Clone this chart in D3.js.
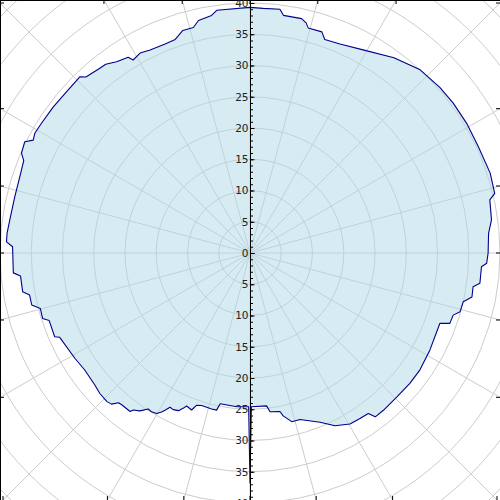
<!DOCTYPE html>
<html>
<head>
<meta charset="utf-8">
<script src="https://cdn.jsdelivr.net/npm/d3@7"></script>
<style>
  body { margin: 0; background: #fff; }
  svg { display: block; }
</style>
</head>
<body>
<svg id="chart"></svg>
<script>
////////////
// DATA (angle in degrees, counter-clockwise from east; radius in axis units)
////////////
const thetaDeg = [
  0, 4.7, 7.8, 12.5, 13.7, 18.4, 25.0, 30.9, 36.4, 41.1,
  47.1, 53.6, 60.9, 66.7, 70.7, 72.0, 75.5, 76.3, 77.6, 82.0,
  83.0, 86.9, 90, 97.8, 99.2, 102.5, 104.1, 106.8, 109.3, 112.1,
  116.2, 118.8, 121.2, 121.9, 124.9, 127.4, 129.1, 133.0, 134.0, 139.8,
  143.4, 148.1, 150.9, 152.5, 153.7, 156.4, 157.8, 161.6, 166.5, 172.2,
  175.4, 177.4, 178.5, 184.8, 185.7, 189.7, 190.8, 193.4, 194.8, 197.5,
  198.6, 203.2, 203.9, 211.0, 215.3, 220.4, 223.1, 226.1, 227.5, 228.7,
  229.8, 232.9, 233.4, 235.1, 236.9, 238.2, 239.8, 240.9, 241.6, 242.6,
  243.9, 245.6, 246.8, 247.5, 249.6, 250.7, 252.4, 256.2, 258.0, 258.8,
  265.1, 269.5, 270, 270.5, 276.2, 277.2, 280.7, 281.5, 283.9, 286.7,
  292.5, 296.2, 300.3, 303.6, 306.4, 307.4, 310.3, 315.6, 320.8, 325.5,
  331.7, 339.7, 340.6, 343.0, 344.4, 347.1, 348.8, 351.4, 352.5, 356.6,
  357.5
];
const radius = [
  38.1, 38.3, 39.0, 39.3, 40.3, 40.5, 40.3, 40.4, 40.4, 40.3,
  40.0, 38.8, 37.2, 36.4, 36.2, 37.2, 37.2, 37.9, 38.4, 38.4,
  39.3, 39.2, 39.3, 39.2, 38.5, 38.1, 37.2, 37.2, 36.2, 36.1,
  36.2, 36.5, 36.1, 36.9, 37.3, 38.0, 38.1, 38.5, 39.2, 39.1,
  39.2, 39.3, 39.4, 39.1, 40.2, 39.9, 39.1, 38.8, 38.7, 38.8,
  39.0, 39.0, 38.0, 38.0, 36.9, 36.9, 35.9, 35.9, 34.7, 34.8,
  33.9, 34.0, 33.3, 32.7, 32.4, 32.6, 32.9, 33.0, 32.8, 31.9,
  31.8, 31.8, 31.3, 30.8, 29.8, 29.9, 29.7, 29.1, 28.6, 27.8,
  27.9, 27.7, 27.0, 26.5, 26.8, 25.8, 25.6, 25.7, 25.7, 24.6,
  24.7, 24.6, 36.8, 24.6, 24.6, 25.6, 25.8, 26.6, 27.8, 27.8,
  29.3, 30.8, 31.7, 31.8, 31.9, 33.0, 33.0, 32.9, 33.0, 33.0,
  32.7, 32.4, 33.9, 34.0, 34.9, 35.0, 36.2, 36.1, 37.1, 37.1,
  37.9
];

// radial axis labels and grid
const tickLabels = [0, 5, 10, 15, 20, 25, 30, 35, 40];
const gridRings = [5, 10, 15, 20, 25, 30, 35, 40, 45, 50, 55];
const spokeAngles = [0, 15, 30, 45, 60, 75, 90, 105, 120, 135, 150, 165,
  180, 195, 210, 225, 240, 255, 270, 285, 300, 315, 330, 345];

////////////
// SETTINGS
////////////
const width = 500, height = 500;
const cx = 250, cy = 253;
const maxR = 40;
const gridColor = "#cccccc";
const fillColor = "#add8e6";
const lineColor = "#00008b";

const svg = d3.select("#chart").attr("width", width).attr("height", height);
const r = d3.scaleLinear().domain([0, maxR]).range([0, 250]);
const toRad = d => d * Math.PI / 180;

const points = thetaDeg.map((t, i) => ({ t: t, v: radius[i] }));

////////////
// GRID
////////////
const grid = svg.append("g").attr("transform", `translate(${cx},${cy})`);

grid.selectAll("circle")
  .data(gridRings)
  .join("circle")
  .attr("r", d => r(d))
  .attr("fill", "none")
  .attr("stroke", gridColor)
  .attr("stroke-width", 1);

grid.selectAll("line")
  .data(spokeAngles)
  .join("line")
  .attr("x1", 0).attr("y1", 0)
  .attr("x2", d => r(60) * Math.cos(toRad(d)))
  .attr("y2", d => -r(60) * Math.sin(toRad(d)))
  .attr("stroke", gridColor)
  .attr("stroke-width", 1);

////////////
// DATA SHAPE
////////////
const radial = d3.lineRadial()
  .angle(d => toRad(90 - d.t))
  .radius(d => r(d.v))
  .curve(d3.curveLinearClosed);

svg.append("path")
  .datum(points)
  .attr("transform", `translate(${cx},${cy})`)
  .attr("d", radial)
  .attr("fill", fillColor)
  .attr("fill-opacity", 0.5)
  .attr("stroke", lineColor)
  .attr("stroke-width", 1.1)
  .attr("stroke-linejoin", "round");

////////////
// FRAME + angular ticks on the frame
////////////
svg.append("rect")
  .attr("x", 0.5).attr("y", 0.5)
  .attr("width", width).attr("height", height)
  .attr("fill", "none")
  .attr("stroke", "#000");

function frameHit(deg) {
  const dx = Math.cos(toRad(deg)), dy = -Math.sin(toRad(deg));
  let best = null;
  const cands = [];
  if (dx > 1e-9) cands.push({ t: (width - cx) / dx, side: "right" });
  if (dx < -1e-9) cands.push({ t: (0 - cx) / dx, side: "left" });
  if (dy > 1e-9) cands.push({ t: (height - cy) / dy, side: "bottom" });
  if (dy < -1e-9) cands.push({ t: (0 - cy) / dy, side: "top" });
  cands.forEach(c => { if (!best || c.t < best.t) best = c; });
  return { x: cx + best.t * dx, y: cy + best.t * dy, side: best.side };
}

const tickLen = 4;
const frameTicks = spokeAngles.map(frameHit);
svg.append("g").selectAll("line")
  .data(frameTicks)
  .join("line")
  .attr("x1", d => d.side === "left" ? 0 : d.side === "right" ? width : d.x)
  .attr("x2", d => d.side === "left" ? tickLen : d.side === "right" ? width - tickLen : d.x)
  .attr("y1", d => d.side === "top" ? 0 : d.side === "bottom" ? height : d.y)
  .attr("y2", d => d.side === "top" ? tickLen : d.side === "bottom" ? height - tickLen : d.y)
  .attr("stroke", "#000")
  .attr("stroke-width", 1);

////////////
// RADIAL AXIS (vertical, through centre, labelled up and down)
////////////
const yUp = d3.scaleLinear().domain([0, maxR]).range([cy, cy - r(maxR)]);
const yDown = d3.scaleLinear().domain([0, maxR]).range([cy, cy + r(maxR)]);

svg.append("line")
  .attr("x1", cx + 0.5).attr("x2", cx + 0.5)
  .attr("y1", 0).attr("y2", height)
  .attr("stroke", "#000");

function drawAxis(scale, withZero) {
  const minor = svg.append("g").attr("transform", `translate(${cx + 0.5},0)`)
    .call(d3.axisRight(scale).tickValues(d3.range(0, maxR + 1, 1)).tickSize(2.5).tickFormat(""));
  const major = svg.append("g").attr("transform", `translate(${cx + 0.5},0)`)
    .call(d3.axisRight(scale).tickValues(tickLabels).tickSize(4).tickFormat(""));
  const labels = svg.append("g").attr("transform", `translate(${cx},0)`)
    .call(d3.axisLeft(scale)
      .tickValues(withZero ? tickLabels : tickLabels.slice(1))
      .tickSize(0).tickPadding(1.5));
  [minor, major, labels].forEach(g => g.select(".domain").remove());
  minor.selectAll("line").attr("stroke", "#000");
  major.selectAll("line").attr("stroke", "#000");
  labels.selectAll("text")
    .attr("fill", "#222")
    .style("font-family", "'DejaVu Sans', sans-serif")
    .style("font-size", "10.5px");
}

drawAxis(yUp, true);
drawAxis(yDown, false);
</script>
</body>
</html>
